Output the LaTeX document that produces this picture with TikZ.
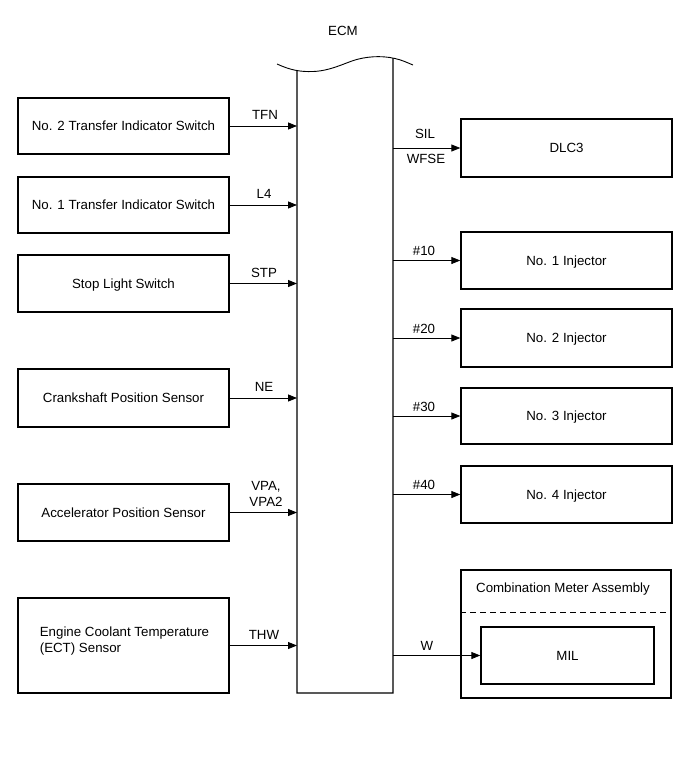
\documentclass[tikz,border=0pt]{standalone}
\usepackage{fontspec}
\setmainfont{Liberation Sans}
\usetikzlibrary{arrows.meta,intersections,fit}
\begin{document}
\begin{tikzpicture}[x=1pt,y=-1pt,
  font=\fontsize{13.3}{16}\selectfont,
  box/.style={draw,line width=1.3pt,inner sep=0pt,align=center,minimum width=211pt,
    text height=9.5pt,text depth=0pt},
  arr/.style={line width=0.8pt,-{Triangle[length=9pt,width=7pt]}},
  lbl/.style={anchor=base,inner sep=0pt,yshift=6.5pt},
  rlbl/.style={anchor=base,inner sep=0pt,yshift=5pt},
  ecmline/.style={line width=1.3pt}]
\useasboundingbox (0,0) rectangle (690,757);

% ECM
\node[inner sep=0pt,outer sep=0pt,fit={(297,58) (393,693)}] (ecm) {};
\node (ecmlabel) at (343,31) {ECM};
\path[name path=wave] (277,64) .. controls (290,70) and (300,72) .. (313,71.5)
  .. controls (330,71) and (345,63) .. (355,60)
  .. controls (365,57) and (380,55) .. (395,58.5)
  .. controls (402,60) and (408,63) .. (413,65);
\draw[line width=0.9pt] (277,64) .. controls (290,70) and (300,72) .. (313,71.5)
  .. controls (330,71) and (345,63) .. (355,60)
  .. controls (365,57) and (380,55) .. (395,58.5)
  .. controls (402,60) and (408,63) .. (413,65);
\path[name path=lv] (ecm.south west) -- ++(0,-660);
\path[name path=rv] (ecm.south east) -- ++(0,-660);
\path[name intersections={of=wave and lv,by=wl}];
\path[name intersections={of=wave and rv,by=wr}];
\draw[ecmline] (wl) -- (ecm.south west) -- (ecm.south east) -- (wr);

% left boxes
\node[box,minimum height=56pt] (b1) at (123.5,126) {No. 2 Transfer Indicator Switch};
\node[box,minimum height=56pt] (b2) at (123.5,205) {No. 1 Transfer Indicator Switch};
\node[box,minimum height=57pt] (b3) at (123.5,283.5) {Stop Light Switch};
\node[box,minimum height=58pt] (b4) at (123.5,398) {Crankshaft Position Sensor};
\node[box,minimum height=57pt] (b5) at (123.5,512.5) {Accelerator Position Sensor};
\node[box,minimum height=95pt] (b6) at (123.5,645.5) {};
\node[align=left,inner sep=0pt] (b6t) at (124.5,641) {Engine Coolant Temperature\\(ECT) Sensor};

% right boxes
\node[box,minimum height=58pt] (r1) at (566.5,148) {DLC3};
\node[box,minimum height=57pt] (r2) at (566.5,260.5) {No. 1 Injector};
\node[box,minimum height=58pt] (r3) at (566.5,338) {No. 2 Injector};
\node[box,minimum height=56pt] (r4) at (566.5,416) {No. 3 Injector};
\node[box,minimum height=57pt] (r5) at (566.5,494.5) {No. 4 Injector};
\node[box,minimum width=210pt,minimum height=128pt] (cm) at (566,634) {};
\node (cmt) at (563,589) {Combination Meter Assembly};
\draw[line width=0.9pt,dash pattern=on 6pt off 4pt] (cm.west |- 0,612) -- (cm.east |- 0,612);
\node[box,minimum width=173pt,minimum height=57pt] (mil) at (567.5,655.5) {MIL};

% left connectors
\draw[arr] (b1.east) -- (b1.east -| ecm.west);
\draw[arr] (b2.east) -- (b2.east -| ecm.west);
\draw[arr] (b3.east) -- (b3.east -| ecm.west);
\draw[arr] (b4.east) -- (b4.east -| ecm.west);
\draw[arr] (b5.east) -- (b5.east -| ecm.west);
\draw[arr] (b6.east) -- (b6.east -| ecm.west);
\node[lbl] (l1) at (b1.east -| 265,0) {TFN};
\node[lbl] (l2) at (b2.east -| 264,0) {L4};
\node[lbl] (l3) at (b3.east -| 264,0) {STP};
\node[lbl] (l4) at (b4.east -| 264,0) {NE};
\node[lbl,yshift=16pt] (l5a) at (b5.east -| 266,0) {VPA,};
\node[lbl,yshift=0pt] (l5b) at (b5.east -| 266,0) {VPA2};
\node[lbl] (l6) at (b6.east -| 264,0) {THW};

% right connectors
\draw[arr] (r1.west -| ecm.east) -- (r1.west);
\draw[arr] (r2.west -| ecm.east) -- (r2.west);
\draw[arr] (r3.west -| ecm.east) -- (r3.west);
\draw[arr] (r4.west -| ecm.east) -- (r4.west);
\draw[arr] (r5.west -| ecm.east) -- (r5.west);
\draw[arr] (mil.west -| ecm.east) -- (mil.west);
\node[rlbl,yshift=4pt] (s1) at (r1.west -| 425,0) {SIL};
\node[rlbl,yshift=-20pt] (s2) at (r1.west -| 426,0) {WFSE};
\node[rlbl] (s3) at (r2.west -| 424,0) {\#10};
\node[rlbl] (s4) at (r3.west -| 424,0) {\#20};
\node[rlbl] (s5) at (r4.west -| 424,0) {\#30};
\node[rlbl] (s6) at (r5.west -| 424,0) {\#40};
\node[rlbl] (s7) at (mil.west -| 427,0) {W};
\end{tikzpicture}
\end{document}
